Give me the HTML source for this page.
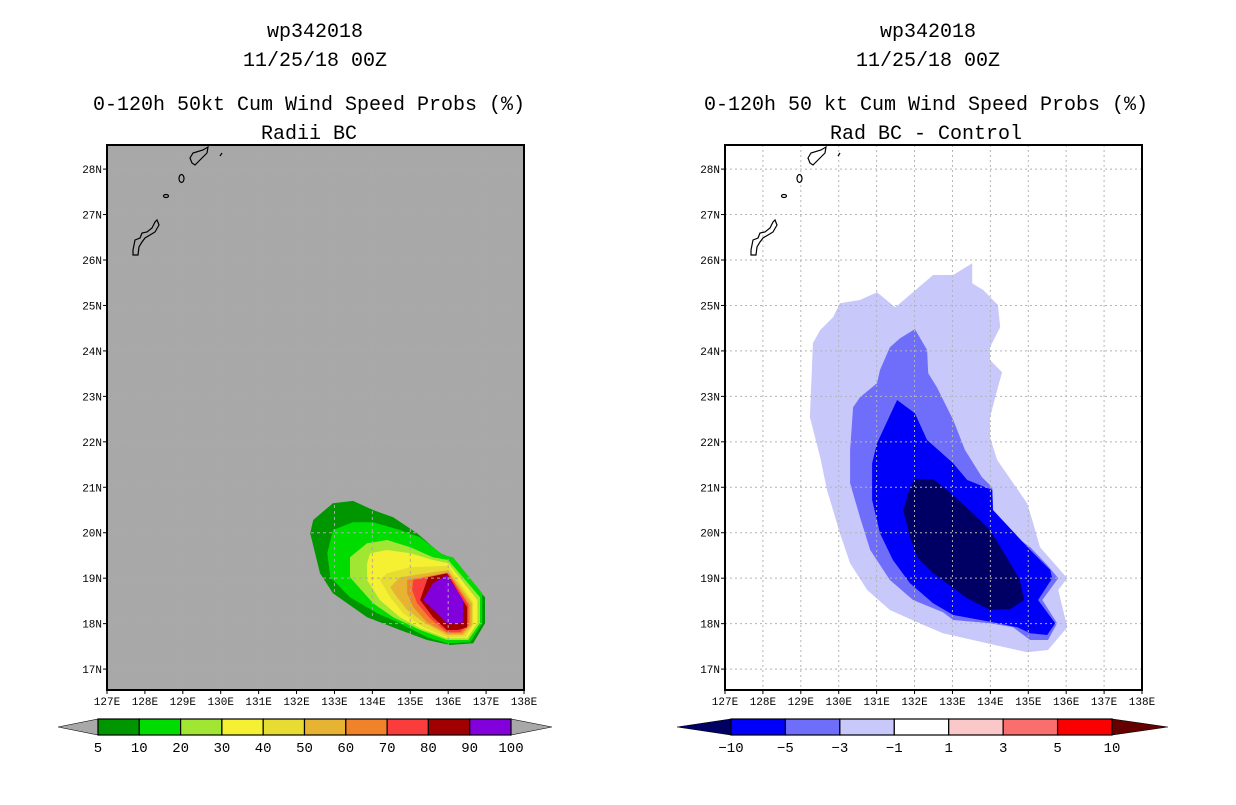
<!DOCTYPE html>
<html><head><meta charset="utf-8"><style>
body{margin:0;background:#fff;}
svg text{font-family:"Liberation Mono","DejaVu Sans Mono",monospace;}
</style></head><body>
<svg id="s" width="1236" height="800" xmlns="http://www.w3.org/2000/svg">
<g id="titles" fill="#000" text-anchor="middle" font-size="20">
 <text x="315" y="37">wp342018</text>
 <text x="315" y="66">11/25/18 00Z</text>
 <text x="309" y="110">0-120h 50kt Cum Wind Speed Probs (%)</text>
 <text x="309" y="139">Radii BC</text>
 <text x="928" y="37">wp342018</text>
 <text x="928" y="66">11/25/18 00Z</text>
 <text x="926" y="110">0-120h 50 kt Cum Wind Speed Probs (%)</text>
 <text x="926" y="139">Rad BC - Control</text>
</g>
</svg>
<script>
// ---- data ----
const lonTicks=[127,128,129,130,131,132,133,134,135,136,137,138];
const latTicks=[17,18,19,20,21,22,23,24,25,26,27,28];
const probLevels=[5,10,20,30,40,50,60,70,80,90,100];
const probColors=['#009600','#00dc00','#a0e632','#f5f032','#e6dc32','#e6b432','#f0822a','#fa3c3c','#a00000','#8200dc'];
const diffLevels=[-10,-5,-3,-1,1,3,5,10];
const diffColors=['#0000fa','#6e6efa','#c8c8fa','#ffffff','#fac8c8','#fa6e6e','#fa0000'];
const diffEnds=['#000064','#640000'];
const prob5=[[132.36,19.99],[132.44,20.28],[132.96,20.65],[133.49,20.70],[134.02,20.50],[134.55,20.34],[135.18,19.99],[135.79,19.55],[136.05,19.46],[136.97,18.58],[136.97,18.01],[136.66,17.57],[136.05,17.53],[135.44,17.64],[134.73,17.86],[133.86,18.14],[132.96,18.67],[132.62,19.11]];
const prob10=[[132.81,19.55],[132.96,20.06],[133.49,20.23],[134.02,20.23],[134.73,20.06],[135.26,19.90],[135.87,19.51],[136.13,19.46],[136.90,18.67],[136.90,18.01],[136.58,17.59],[135.97,17.57],[135.44,17.70],[134.73,18.01],[134.13,18.23],[133.41,18.58],[132.89,19.02]];
const prob20=[[133.41,19.46],[133.86,19.77],[134.39,19.84],[135.00,19.68],[135.60,19.46],[136.00,19.40],[136.84,18.58],[136.84,18.01],[136.53,17.64],[135.97,17.64],[135.26,17.86],[134.55,18.14],[134.02,18.45],[133.41,19.02]];
const prob30=[[133.86,19.33],[133.94,19.55],[134.39,19.62],[135.00,19.55],[135.60,19.40],[136.00,19.33],[136.77,18.52],[136.77,18.01],[136.50,17.68],[135.97,17.68],[135.26,17.90],[134.73,18.14],[134.20,18.52],[133.86,18.96]];
const prob40=[[134.20,18.96],[134.39,19.11],[135.00,19.24],[136.00,19.27],[136.66,18.47],[136.66,17.97],[136.45,17.70],[135.97,17.70],[135.34,17.92],[134.81,18.23],[134.47,18.58]];
const prob50=[[134.47,18.80],[134.73,19.02],[136.00,19.18],[136.63,18.45],[136.63,17.97],[136.39,17.75],[135.97,17.75],[135.39,18.01],[134.92,18.30],[134.65,18.58]];
const prob60=[[134.92,18.96],[136.00,19.13],[136.58,18.41],[136.58,17.97],[136.37,17.79],[135.97,17.79],[135.44,18.03],[135.08,18.36],[134.92,18.67]];
const prob70=[[135.08,18.96],[136.00,19.11],[136.53,18.41],[136.53,17.97],[136.32,17.81],[135.97,17.81],[135.52,18.12],[135.18,18.45],[135.05,18.74]];
const prob80=[[135.47,19.02],[135.97,19.11],[136.50,18.36],[136.50,17.92],[136.26,17.86],[135.97,17.86],[135.60,18.14],[135.26,18.52]];
const prob90=[[135.60,18.89],[135.97,19.07],[136.39,18.52],[136.39,18.03],[136.24,18.01],[135.97,18.01],[135.71,18.23],[135.34,18.52]];
const diffM1=[[129.24,22.54],[129.32,24.17],[129.51,24.46],[129.85,24.74],[130.03,25.05],[130.56,25.12],[131.01,25.29],[131.49,24.96],[131.62,25.05],[132.49,25.67],[133.02,25.67],[133.52,25.93],[133.52,25.49],[133.81,25.34],[134.20,25.01],[134.26,24.52],[133.99,24.08],[133.99,23.80],[134.31,23.53],[134.18,23.14],[133.99,22.54],[133.99,22.10],[134.18,21.60],[134.97,20.65],[135.13,20.21],[135.31,19.68],[136.03,19.00],[135.79,18.74],[136.03,17.92],[135.52,17.42],[134.97,17.37],[133.91,17.57],[132.75,17.79],[132.07,18.03],[131.35,18.30],[130.75,18.74],[130.30,19.33],[130.03,19.99],[129.69,20.94],[129.51,21.66]];
const diffM3=[[130.30,21.82],[130.38,22.76],[130.56,22.98],[131.01,23.29],[131.09,23.58],[131.35,24.08],[131.62,24.28],[132.01,24.48],[132.33,24.02],[132.36,23.51],[132.59,23.20],[133.02,22.48],[133.33,21.82],[133.78,21.22],[134.05,21.00],[134.07,20.50],[134.44,20.06],[135.05,19.68],[135.50,19.29],[135.79,19.00],[135.37,18.52],[135.76,18.01],[135.52,17.64],[135.05,17.64],[134.60,17.92],[133.99,18.01],[133.02,18.08],[132.75,18.25],[131.96,18.52],[131.35,18.96],[130.83,19.62],[130.56,20.34],[130.30,21.09]];
const diffM5=[[130.88,21.53],[131.01,21.97],[131.54,22.92],[132.01,22.63],[132.33,22.04],[133.02,21.53],[133.39,21.16],[134.05,20.94],[134.07,20.50],[135.05,19.62],[135.58,19.18],[135.63,19.00],[135.26,18.52],[135.71,18.01],[135.50,17.75],[135.05,17.79],[134.71,17.92],[134.07,18.03],[133.02,18.19],[132.49,18.45],[131.88,18.89],[131.43,19.40],[131.09,19.99],[130.88,20.72]];
const diffM10=[[131.70,20.50],[131.88,21.00],[132.01,21.18],[132.49,21.18],[132.86,20.94],[133.54,20.43],[133.99,20.06],[134.52,19.33],[134.78,18.96],[134.89,18.52],[134.52,18.32],[133.99,18.30],[133.39,18.56],[132.49,19.11],[132.07,19.46],[131.88,19.90]];
const probPolys=[prob5,prob10,prob20,prob30,prob40,prob50,prob60,prob70,prob80,prob90];
const diffPolys=[diffM1,diffM3,diffM5,diffM10];
const diffPolyColors=['#c8c8fa','#6e6efa','#0000fa','#000064'];

// ---- drawing ----
const NS='http://www.w3.org/2000/svg';
const svg=document.getElementById('s');
const W=417,H=545,LON0=127,LON1=138,LATTOP=28.53,LATBOT=16.54;
function xS(lon){return (lon-LON0)/(LON1-LON0)*W;}
function yS(lat){return (LATTOP-lat)/(LATTOP-LATBOT)*H;}
function mk(tag,attrs,parent){const e=document.createElementNS(NS,tag);for(const k in attrs)e.setAttribute(k,attrs[k]);parent.appendChild(e);return e;}
const isl1='M26,110 L26,105 L28,95 L33,93 L35,88 L40,87 L45,83 L48,77 L50,75 L52,80 L48,87 L43,90 L38,93 L35,97 L32,102 L31,110 Z';
const isl2='M83,13 L86,8 L96,5 L101,2 L100,8 L91,17 L88,20 L85,18 Z';

function panel(ox,oy,bg,polys,colors,name){
  const g=mk('g',{transform:`translate(${ox},${oy})`},svg);
  
  
  const r=mk('rect',{x:0,y:0,width:W,height:H,fill:bg},g);
  
  
  polys.forEach((p,i)=>{
    const pl=mk('polygon',{points:p.map(q=>xS(q[0]).toFixed(1)+','+yS(q[1]).toFixed(1)).join(' '),fill:colors[i]},g);
    
    
  });
  const gc=bg==='#ffffff'?'#b4b4b4':'#aaaaaa';
  const da=bg==='#ffffff'?'2,3':'3,3';
  lonTicks.slice(1,-1).forEach(l=>{const ln=mk('line',{x1:xS(l),x2:xS(l),y1:0,y2:H,stroke:gc,'stroke-dasharray':da},g);});
  latTicks.forEach(l=>{const ln=mk('line',{x1:0,x2:W,y1:yS(l),y2:yS(l),stroke:gc,'stroke-dasharray':da},g);});
  const c=mk('g',{fill:'none',stroke:'#000','stroke-width':1.2},g);
  
  
  mk('path',{d:isl1},c);mk('path',{d:isl2},c);
  mk('ellipse',{cx:74.5,cy:33.5,rx:2.5,ry:4},c);
  mk('ellipse',{cx:59,cy:51,rx:2.5,ry:1.5},c);
  mk('path',{d:'M113,11 L115,8'},c);
  const f=mk('rect',{x:0,y:0,width:W,height:H,fill:'none',stroke:'#000','stroke-width':2},g);
  
  
  latTicks.forEach(l=>{
    mk('line',{x1:-4,x2:0,y1:yS(l),y2:yS(l),stroke:'#000'},g);
    const t=mk('text',{x:-5,y:yS(l)+4,'font-size':11,'text-anchor':'end'},g);
    t.textContent=l+'N';
    
    
  });
  lonTicks.forEach(l=>{
    mk('line',{x1:xS(l),x2:xS(l),y1:H,y2:H+4,stroke:'#000'},g);
    const t=mk('text',{x:xS(l),y:H+15,'font-size':11,'text-anchor':'middle'},g);
    t.textContent=l+'E';
    
    
  });
}
panel(107,145,'#a8a8a8',probPolys,probColors,'left-map');
panel(725,145,'#ffffff',diffPolys,diffPolyColors,'right-map');

function colorbar(x0,x1,tipL,tipR,levels,colors,endL,endR,name){
  const g=mk('g',{},svg);
  
  
  const y0=719,y1=735,n=colors.length,bw=(x1-x0)/n;
  const tl=mk('polygon',{points:`${tipL},727 ${x0},${y0} ${x0},${y1}`,fill:endL,stroke:'#000','stroke-width':0.6},g);
  
  
  const tr=mk('polygon',{points:`${tipR},727 ${x1},${y0} ${x1},${y1}`,fill:endR,stroke:'#000','stroke-width':0.6},g);
  
  
  colors.forEach((c,i)=>{
    const r=mk('rect',{x:x0+i*bw,y:y0,width:bw,height:y1-y0,fill:c,stroke:'#000','stroke-width':1.2},g);
    
    
  });
  levels.forEach((v,i)=>{
    const t=mk('text',{x:x0+i*bw,y:752,'font-size':14,'text-anchor':'middle'},g);
    t.textContent=v<0?'\u2212'+(-v):v;
    
    
  });
}
colorbar(98,511,58,552,probLevels,probColors,'#a8a8a8','#a8a8a8','left-colorbar');
colorbar(731,1112,677,1168,diffLevels,diffColors,diffEnds[0],diffEnds[1],'right-colorbar');
</script>
</body></html>
